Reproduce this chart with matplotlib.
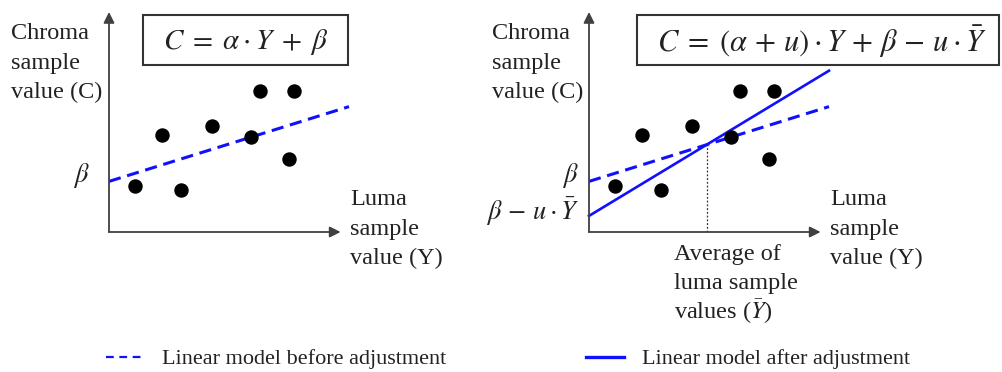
import matplotlib.pyplot as plt
from matplotlib.lines import Line2D
from matplotlib.patches import Rectangle

plt.rcParams['font.family'] = ['Liberation Serif', 'DejaVu Serif']
plt.rcParams['mathtext.fontset'] = 'stix'

# sample points (luma Y, chroma C), same in both panels
luma = [1.1, 2.2, 3.0, 4.3, 5.9, 6.3, 7.7, 7.5]
chroma = [2.1, 4.4, 1.9, 4.8, 4.3, 6.4, 6.4, 3.3]

alpha, beta = 0.34, 2.3   # model before adjustment
u = 0.32                  # slope adjustment
y_mean = 4.9              # average luma
x_end = 10.0

W, H = 1003, 372
fig = plt.figure(figsize=(W / 100, H / 100), dpi=100)
TXT = '#222222'
AXC = '#404040'
BLUE = '#1010ff'


def fx(x):
    return x / W


def fy(y):
    return 1 - y / H


def lines(x, y0, rows, step=29.5, size=17.5):
    # one text per row, placed on its baseline, so every row is spaced alike
    for i, r in enumerate(rows):
        fig.text(fx(x), fy(y0 + 7 + i * step), r, fontsize=size, color=TXT,
                 ha='left', va='baseline')


def panel(x0):
    ax = fig.add_axes([fx(x0), 140 / H, 240 / W, 220 / H])
    ax.set_xlim(0, 10)
    ax.set_ylim(0, 10)
    ax.axis('off')
    arr = dict(arrowstyle='-|>', color=AXC, lw=1.3, mutation_scale=16,
               shrinkA=0, shrinkB=0)
    ax.annotate('', xy=(9.65, 0), xytext=(0, 0), arrowprops=arr,
                annotation_clip=False)
    ax.annotate('', xy=(0, 10), xytext=(0, 0), arrowprops=arr,
                annotation_clip=False)
    ax.scatter(luma, chroma, s=88, color='black', zorder=3, clip_on=False)
    ax.plot([0, x_end], [beta, beta + alpha * x_end], color=BLUE, lw=2.2,
            dashes=[4, 2.2], clip_on=False)
    return ax


# left panel
axl = panel(109)
lines(11, 32, ['Chroma', 'sample', 'value (C)'])
lines(350, 198, ['Luma', 'sample', 'value (Y)'])
fig.text(fx(81), fy(176), r'$\beta$', fontsize=19, color=TXT,
         ha='center', va='center')
fig.patches.append(Rectangle((fx(143), fy(65)), fx(205), 50 / H,
                             transform=fig.transFigure, fill=False,
                             ec='#333333', lw=1.5))
fig.text(fx(246), fy(42), r'$C\;=\;\alpha\cdot Y\;+\;\beta$', fontsize=21,
         color=TXT, ha='center', va='center')

# right panel
axr = panel(589)
b2 = beta - u * y_mean
axr.plot([0, x_end], [b2, b2 + (alpha + u) * x_end], color=BLUE, lw=1.9,
         clip_on=False)
axr.plot([y_mean, y_mean], [0, beta + alpha * y_mean], color='#333333',
         lw=0.9, ls=(0, (1.5, 1.5)))
lines(492, 32, ['Chroma', 'sample', 'value (C)'])
lines(830, 198, ['Luma', 'sample', 'value (Y)'])
lines(674, 253, ['Average of', 'luma sample', 'values ($\\bar{Y}$)'])
fig.text(fx(570), fy(176), r'$\beta$', fontsize=19, color=TXT,
         ha='center', va='center')
fig.text(fx(579), fy(212), r'$\beta\,-\,u\cdot\bar{Y}$', fontsize=19,
         color=TXT, ha='right', va='center')
fig.patches.append(Rectangle((fx(637), fy(65)), fx(362), 50 / H,
                             transform=fig.transFigure, fill=False,
                             ec='#333333', lw=1.5))
fig.text(fx(822), fy(42),
         r'$C\;=\;(\alpha\,+\,u)\cdot Y\,+\,\beta\,-\,u\cdot\bar{Y}$',
         fontsize=22, color=TXT, ha='center', va='center')

# legend
handles = [Line2D([], [], color=BLUE, lw=1.6, dashes=[3.5, 2.5]),
           Line2D([], [], color=BLUE, lw=2.4)]
labels = ['Linear model before adjustment', 'Linear model after adjustment']
leg = fig.legend(handles, labels, loc='center', bbox_to_anchor=(fx(508), fy(359)),
                 ncol=2, frameon=False, fontsize=16, handlelength=1.7,
                 handletextpad=0.8, columnspacing=6.3)
for t in leg.get_texts():
    t.set_color(TXT)

fig.savefig('out.png', dpi=100)
